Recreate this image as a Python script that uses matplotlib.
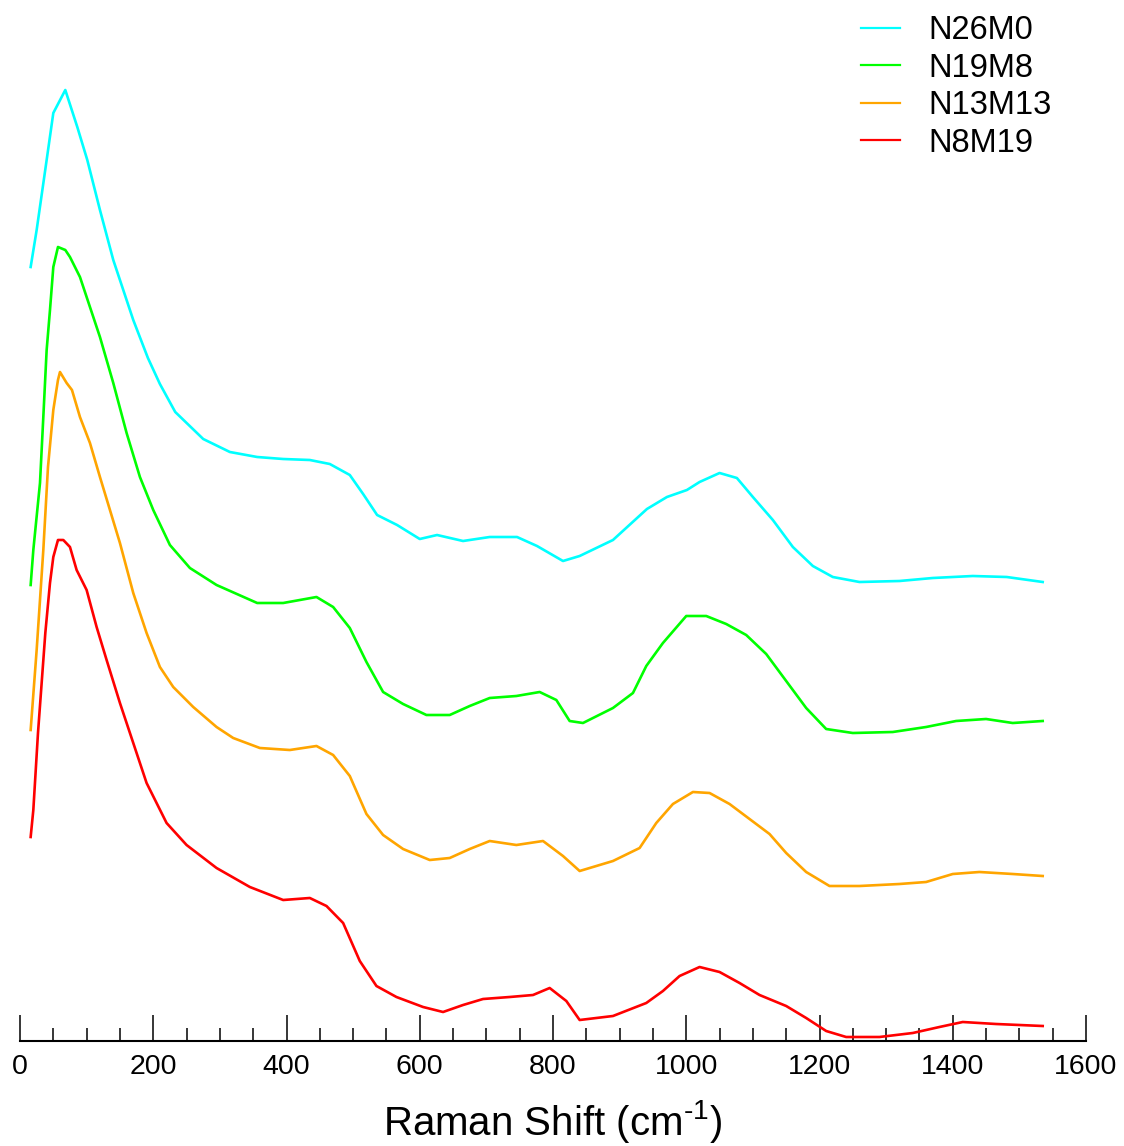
import numpy as np
import matplotlib
matplotlib.use("Agg")
import matplotlib.pyplot as plt
from matplotlib.ticker import MultipleLocator

plt.rcParams['font.family'] = ['Liberation Sans', 'DejaVu Sans']
plt.rcParams['mathtext.fontset'] = 'custom'
plt.rcParams['mathtext.rm'] = 'Liberation Sans'

# Raman shift (cm-1) and offset intensities (a.u.)
x_n26m0 = [16, 25, 40, 50, 68, 86, 101, 120, 140, 170, 192, 210, 233, 275, 315, 356, 395, 435,
           465, 495, 515, 536, 566, 600, 626, 665, 705, 746, 776, 815, 840, 890, 941, 971, 1001,
           1020, 1050, 1076, 1100, 1130, 1160, 1190, 1220, 1260, 1320, 1370, 1430, 1481, 1535]
y_n26m0 = [774, 811, 881, 928, 951, 914, 881, 831, 781, 721, 683, 657, 629, 602, 589, 584, 582, 581,
           577, 566, 547, 526, 516, 502, 506, 500, 504, 504, 495, 480, 485, 501, 532, 544, 551,
           559, 568, 563, 544, 521, 494, 475, 464, 459, 460, 463, 465, 464, 459]

x_n19m8 = [16, 20, 30, 35, 40, 45, 50, 57, 68, 75, 90, 105, 120, 140, 160, 180, 200, 225, 255,
           295, 356, 395, 445, 470, 495, 520, 545, 575, 610, 645, 675, 705, 745, 780, 805, 825,
           845, 890, 920, 940, 965, 1000, 1030, 1060, 1090, 1120, 1150, 1180, 1210, 1250, 1310,
           1360, 1405, 1450, 1490, 1535]
y_n19m8 = [456, 491, 558, 624, 691, 731, 774, 794, 791, 784, 764, 734, 704, 658, 608, 564, 531, 496, 473,
           456, 438, 438, 444, 434, 413, 379, 349, 337, 326, 326, 335, 343, 345, 349, 341, 320,
           318, 333, 348, 375, 398, 425, 425, 417, 406, 387, 360, 333, 312, 308, 309,
           314, 320, 322, 318, 320]

x_n13m13 = [16, 25, 35, 42, 50, 57, 60, 70, 78, 90, 105, 120, 135, 150, 170, 190, 210, 230, 260,
            295, 320, 360, 405, 445, 470, 495, 520, 545, 575, 615, 645, 675, 705, 745, 785, 815,
            840, 890, 930, 955, 980, 1010, 1035, 1065, 1095, 1125, 1150, 1180, 1215, 1260, 1320,
            1360, 1400, 1440, 1490, 1535]
y_n13m13 = [311, 391, 491, 574, 631, 661, 669, 658, 651, 624, 598, 564, 531, 498, 448, 408, 374, 354, 334,
            314, 303, 293, 291, 295, 286, 265, 227, 206, 192, 181, 183, 192, 200, 196, 200, 185,
            170, 180, 193, 218, 237, 249, 248, 237, 222, 207, 188, 169, 155, 155, 157,
            159, 167, 169, 167, 165]

x_n8m19 = [16, 20, 27, 38, 45, 50, 57, 65, 75, 85, 100, 115, 130, 150, 170, 190, 220, 250, 295,
           345, 395, 435, 460, 485, 510, 535, 565, 605, 635, 665, 695, 735, 770, 795, 820, 840,
           890, 940, 965, 990, 1020, 1050, 1080, 1110, 1150, 1180, 1210, 1240, 1290, 1340, 1380,
           1415, 1465, 1535]
y_n8m19 = [204, 231, 308, 408, 458, 484, 501, 501, 494, 471, 451, 414, 381, 338, 298, 258, 218, 196, 173,
           154, 141, 143, 135, 118, 80, 55, 44, 34, 29, 36, 42, 44, 46, 53, 40, 21,
           25, 38, 50, 65, 74, 69, 58, 46, 35, 23, 10, 4, 4, 8, 14,
           19, 17, 15]

fig = plt.figure(figsize=(11.24, 11.46), dpi=100)
ax = fig.add_axes([20 / 1124, 105 / 1146, 1066 / 1124, 1041 / 1146])

ax.plot(x_n26m0, y_n26m0, color="#00FFFF", lw=1.9, label="N26M0")
ax.plot(x_n19m8, y_n19m8, color="#00FF00", lw=1.9, label="N19M8")
ax.plot(x_n13m13, y_n13m13, color="#FFA500", lw=1.9, label="N13M13")
ax.plot(x_n8m19, y_n8m19, color="#FF0000", lw=1.9, label="N8M19")

ax.set_xlim(0, 1600)
ax.set_ylim(0, 1041)
for s in ["top", "left", "right"]:
    ax.spines[s].set_visible(False)
ax.spines["bottom"].set_linewidth(1.5)
ax.set_yticks([])
ax.xaxis.set_major_locator(MultipleLocator(200))
ax.xaxis.set_minor_locator(MultipleLocator(50))
ax.tick_params(axis="x", which="major", direction="in", length=19, width=1.1,
               labelsize=20.5, pad=9)
ax.tick_params(axis="x", which="minor", direction="in", length=9.5, width=1.1)
ax.set_xlabel(r"Raman Shift (cm$^{\text{-1}}$)", fontsize=29, labelpad=13)

leg = ax.legend(loc="upper left", bbox_to_anchor=(861 / 1124, 1 - 15 / 1146),
                bbox_transform=fig.transFigure, frameon=False, fontsize=23.5,
                handlelength=1.2, handletextpad=0.85, labelspacing=0.2, borderpad=0,
                borderaxespad=0)
for h in leg.get_lines():
    h.set_linewidth(1.6)

fig.savefig("out.png", dpi=100)
